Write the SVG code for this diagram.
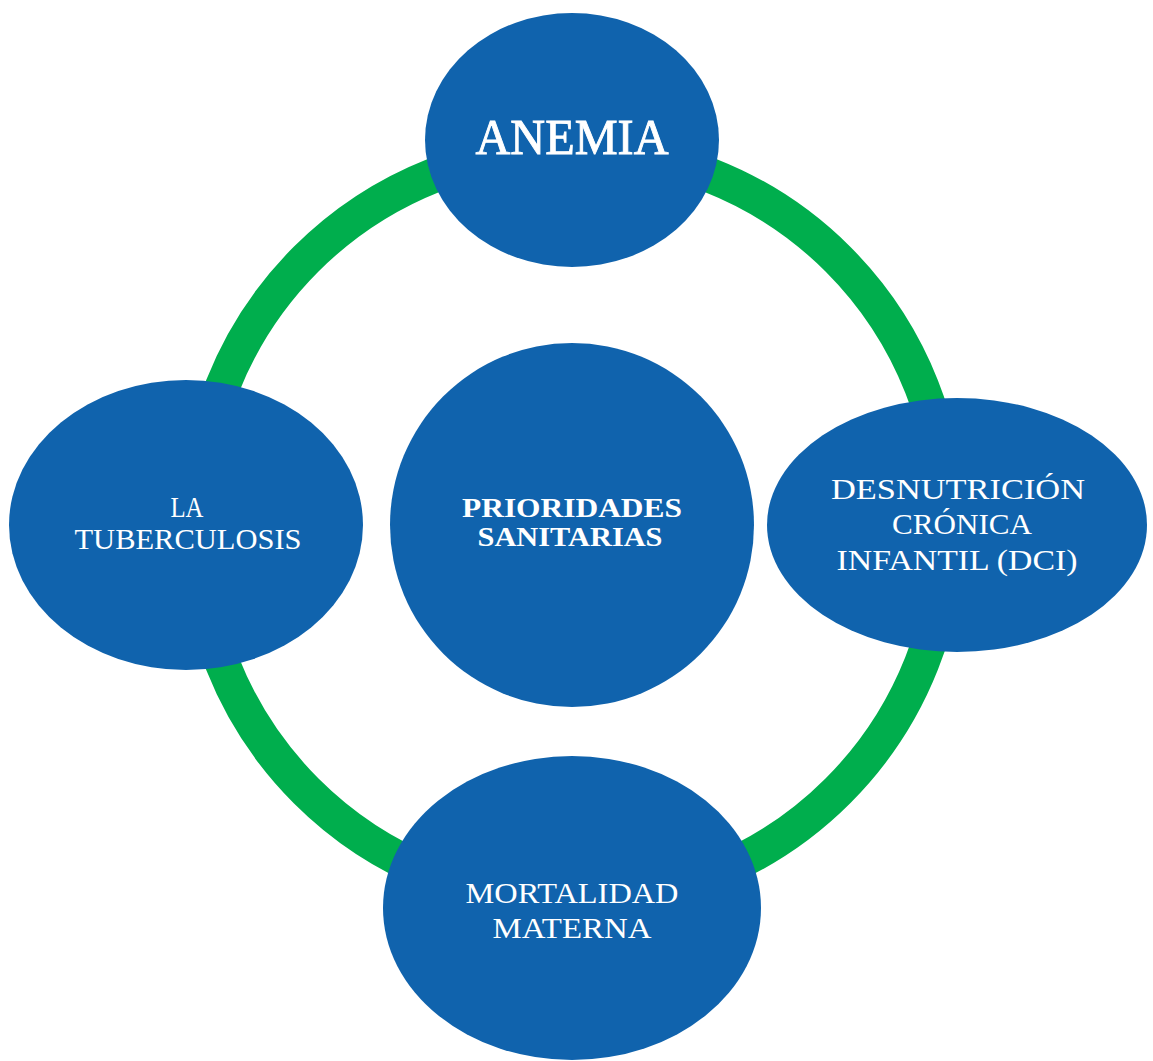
<svg xmlns="http://www.w3.org/2000/svg" width="1153" height="1061" viewBox="0 0 1153 1061">
<style>
.node{fill:#1063ad;}
.ring{fill:none;stroke:#00ae4d;stroke-width:35;}
.t{fill:#ffffff;font-family:"Liberation Serif","DejaVu Serif",serif;text-anchor:middle;font-size:30px;}
.b{font-weight:bold;font-size:28px;}
.h{font-size:50px;stroke:#ffffff;stroke-width:0.9;}
</style>
<rect width="1153" height="1061" fill="#ffffff"/>
<g id="connectors">
<circle class="ring" cx="572" cy="525" r="376"/>
</g>
<g id="anemia">
<ellipse class="node" cx="572" cy="140" rx="147" ry="127"/>
<text class="t h" x="572" y="154" textLength="193" lengthAdjust="spacingAndGlyphs">ANEMIA</text>
</g>
<g id="prioridades">
<circle class="node" cx="572" cy="525" r="182"/>
<text class="t b" x="572" y="517" textLength="220" lengthAdjust="spacingAndGlyphs">PRIORIDADES</text>
<text class="t b" x="570" y="546" textLength="185" lengthAdjust="spacingAndGlyphs">SANITARIAS</text>
</g>
<g id="tuberculosis">
<ellipse class="node" cx="186" cy="525" rx="177" ry="145"/>
<text class="t" x="187" y="517" textLength="33" lengthAdjust="spacingAndGlyphs">LA</text>
<text class="t" x="188" y="549" textLength="227" lengthAdjust="spacingAndGlyphs">TUBERCULOSIS</text>
</g>
<g id="desnutricion">
<ellipse class="node" cx="957" cy="525" rx="190" ry="127"/>
<text class="t" x="958" y="499" textLength="254" lengthAdjust="spacingAndGlyphs">DESNUTRICIÓN</text>
<text class="t" x="962" y="534" textLength="140" lengthAdjust="spacingAndGlyphs">CRÓNICA</text>
<text class="t" x="957" y="570" textLength="241" lengthAdjust="spacingAndGlyphs">INFANTIL (DCI)</text>
</g>
<g id="mortalidad">
<ellipse class="node" cx="572" cy="908" rx="189" ry="152"/>
<text class="t" x="572" y="903" textLength="213" lengthAdjust="spacingAndGlyphs">MORTALIDAD</text>
<text class="t" x="572" y="938" textLength="159" lengthAdjust="spacingAndGlyphs">MATERNA</text>
</g>
</svg>
